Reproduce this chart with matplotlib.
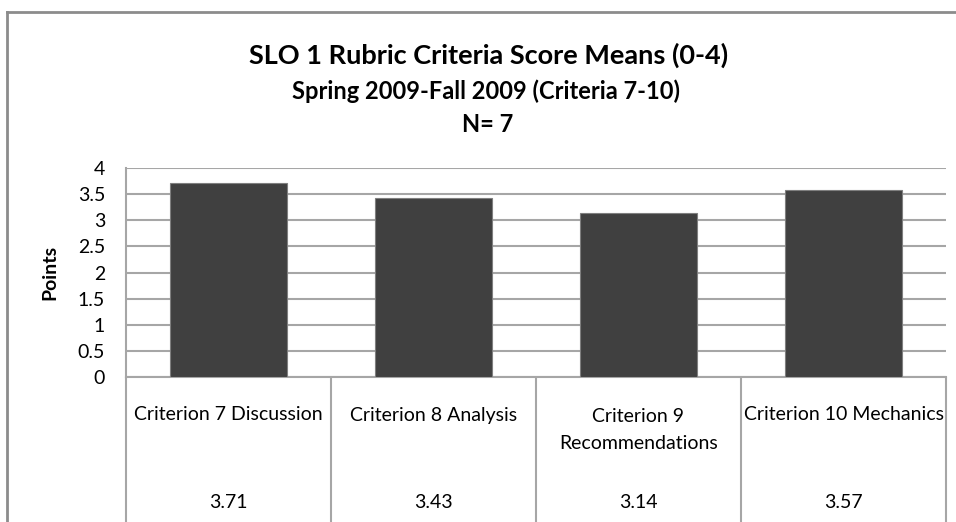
import matplotlib
matplotlib.use('Agg')
from matplotlib import pyplot as plt
import numpy as np

#
# data
# ------------------------
#
categories = ['Criterion 7 Discussion', 'Criterion 8 Analysis',
              'Criterion 9\nRecommendations', 'Criterion 10 Mechanics']
means = [3.71, 3.43, 3.14, 3.57]
yticks = [0, 0.5, 1, 1.5, 2, 2.5, 3, 3.5, 4]
ytick_labels = ['0', '0.5', '1', '1.5', '2', '2.5', '3', '3.5', '4']

plt.rcParams['font.family'] = ['Lato', 'DejaVu Sans']

W, H = 956, 522
fig = plt.figure(figsize=(W / 100, H / 100), dpi=100)

def rect(x0, y0, x1, y1):
    return [x0 / W, 1 - y1 / H, (x1 - x0) / W, (y1 - y0) / H]

grid_col = '#a6a6a6'
bar_col = '#404040'

#
# outer chart border
# ------------------
#
fig.add_artist(plt.Line2D([7 / W, 7 / W], [0, 1 - 12 / H], color='#8c8c8c', lw=2))
fig.add_artist(plt.Line2D([7 / W, 1], [1 - 12 / H, 1 - 12 / H], color='#8c8c8c', lw=2))

#
# titles
# ------
#
fig.text(489 / W, 1 - 55 / H, 'SLO 1 Rubric Criteria Score Means (0-4)',
         ha='center', va='center', fontsize=19.5, fontweight='bold')
fig.text(486 / W, 1 - 91 / H, 'Spring 2009-Fall 2009 (Criteria 7-10)',
         ha='center', va='center', fontsize=17, fontweight='bold')
fig.text(488 / W, 1 - 125 / H, 'N= 7',
         ha='center', va='center', fontsize=17, fontweight='bold')

#
# bar plot
# --------
#
ax = fig.add_axes(rect(126, 168, 946, 377))
x = np.arange(len(categories))
ax.bar(x, means, width=0.57, color=bar_col, edgecolor='#7f7f7f', lw=0.8, zorder=3)
ax.set_xlim(-0.5, len(categories) - 0.5)
ax.set_ylim(0, 4)
ax.set_yticks(yticks)
ax.set_yticklabels(ytick_labels, fontsize=14)
ax.set_xticks([])
ax.tick_params(axis='y', length=0, pad=15)
ax.grid(axis='y', color=grid_col, lw=1.5, zorder=0)
for s in ['top', 'right']:
    ax.spines[s].set_visible(False)
ax.spines['left'].set_color(grid_col)
ax.spines['left'].set_linewidth(1.5)
ax.spines['bottom'].set_color(grid_col)
ax.spines['bottom'].set_linewidth(1.5)
ax.set_ylabel('Points', fontsize=14, fontweight='bold', labelpad=14)

#
# data table below the plot
# -------------------------
#
axt = fig.add_axes(rect(126, 377, 946, 522))
axt.set_xlim(-0.5, len(categories) - 0.5)
axt.set_ylim(0, 1)
axt.axis('off')
bounds = np.arange(len(categories) + 1) - 0.5
axt.vlines(bounds, 0, 1, color=grid_col, lw=1.5, clip_on=False)
for i, (c, v) in enumerate(zip(categories, means)):
    if '\n' in c:
        axt.text(i, 1 - 53 / 145, c, ha='center', va='center', fontsize=14,
                 linespacing=1.65)
    else:
        axt.text(i, 1 - 38 / 145, c, ha='center', va='center', fontsize=14)
    axt.text(i, 1 - 125 / 145, '%.2f' % v, ha='center', va='center', fontsize=14)

fig.savefig('out.png', dpi=100)
